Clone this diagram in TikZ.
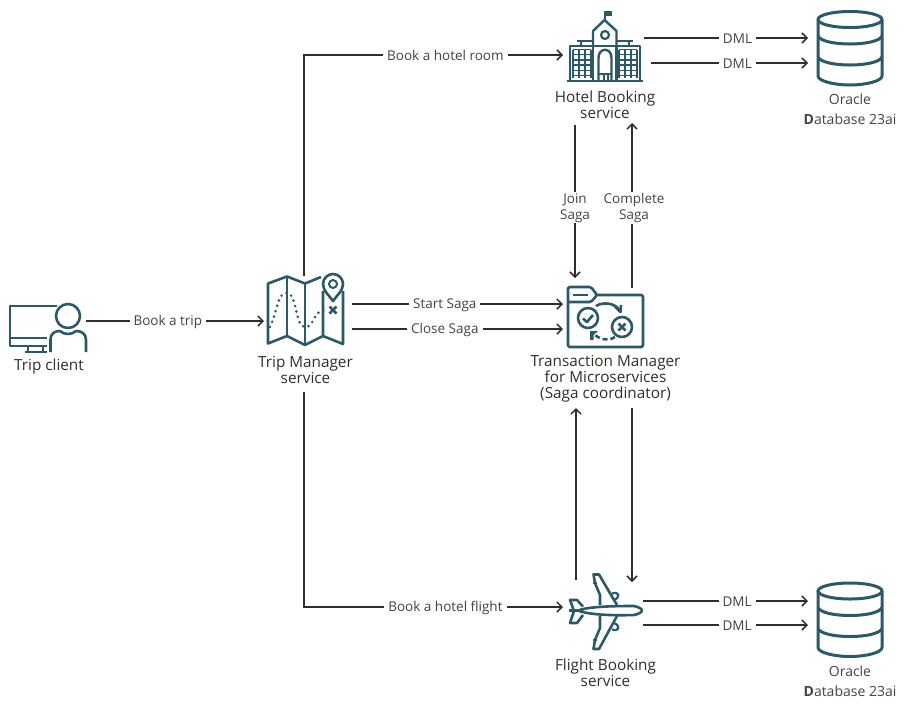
\documentclass[tikz,border=0pt]{standalone}
\usepackage{fontspec}
\setmainfont{Open Sans}
\usetikzlibrary{arrows.meta}
\definecolor{teal}{HTML}{2C5967}
\definecolor{ink}{HTML}{312D2A}
\definecolor{soft}{HTML}{47433F}
\tikzset{
  conn/.style={draw=ink,line width=1.5pt,-{Straight Barb[length=5pt,width=10pt,line width=1.5pt]}},
  lab/.style={fill=white,text=soft,font=\fontsize{13.5}{16}\selectfont,align=center,inner xsep=4pt,inner ysep=1pt,yshift=-0.8pt},
  title/.style={text=ink,font=\fontsize{15.3}{16}\selectfont,align=center,inner sep=0pt},
  dbtitle/.style={text=soft,font=\fontsize{14}{20}\selectfont,align=center,inner sep=0pt},
  icon/.style={draw=teal,line width=2.6pt,line join=round,fill=none},
  thin icon/.style={draw=teal,line width=2pt,line join=round,fill=none},
}
\newcommand{\dbicon}[1]{%
  \begin{scope}[yshift=-#1pt]
    \draw[icon,line width=3pt] (850,19.5) ellipse [x radius=32,y radius=8];
    \draw[icon,line width=3pt] (818,19.5) -- (818,76) .. controls (818,81) and (834,85) .. (850,85) .. controls (866,85) and (882,81) .. (882,76) -- (882,19.5);
    \draw[icon,line width=3pt] (818,36) .. controls (820,41) and (834,44) .. (850,44) .. controls (866,44) and (880,41) .. (882,36);
    \draw[icon,line width=3pt] (818,57) .. controls (820,62) and (834,65) .. (850,65) .. controls (866,65) and (880,62) .. (882,57);
  \end{scope}}
\begin{document}
\begin{tikzpicture}[x=1pt,y=-1pt]
\useasboundingbox (0,0) rectangle (915,716);
% ---------- Trip client icon
\draw[icon] (57,306) -- (10,306) -- (10,346) -- (47,346);
\draw[icon] (10,338) -- (47,338);
\draw[thin icon] (28,346) -- (28,352) (43,346) -- (43,352) (25,352) -- (47,352);
\draw[icon] (68,316) circle [radius=12];
\draw[icon] (50.5,352) -- (50.5,340) .. controls (50.5,333) and (55,331) .. (60,331) .. controls (64,335) and (72,335) .. (76,331) .. controls (82,331) and (86,334) .. (86,340) -- (86,352);
% ---------- Trip Manager icon
\draw[icon] (323,291) -- (323,336) -- (305,345) -- (287,336) -- (268,343.5) -- (268,283.5) -- (287,276.5) -- (305,283.5) -- (321,277);
\draw[icon] (343,291) -- (343,344) -- (323,336);
\draw[icon] (287,276.5) -- (287,336) (305,283.5) -- (305,345);
\draw[icon] (333,301) .. controls (329,295) and (323,291) .. (323,284) .. controls (323,278) and (328,274) .. (333,274) .. controls (338,274) and (343,278) .. (343,284) .. controls (343,291) and (337,295) .. (333,301) -- cycle;
\draw[thin icon] (333,284) circle [radius=4];
\draw[icon,line width=2.9pt,line cap=round,dash pattern=on 0pt off 5.6pt] (270,327) .. controls (278,310) and (277,293) .. (287,293) .. controls (297,293) and (295,327) .. (305,327) .. controls (315,327) and (312,311) .. (326,309.5);
\draw[icon,line width=2.8pt] (329.5,306.5) -- (336.5,313.5) (336.5,306.5) -- (329.5,313.5);
% ---------- Hotel icon
\draw[icon,line width=2pt] (604.5,21) -- (604.5,12);
\fill[teal] (604,10.5) rectangle (612,15.5);
\draw[icon,line width=2.4pt] (593,45) -- (593,31) -- (604.5,20) -- (616.5,31) -- (616.5,45);
\draw[icon,line width=2.2pt] (605,35) circle [radius=4];
\draw[icon,line width=2pt] (577,41) -- (593,41) (617,41) -- (633,41) (581,41) -- (581,46) (629,41) -- (629,46);
\draw[icon,line width=2.4pt] (570,81) -- (570,46) -- (640,46) -- (640,81);
\draw[icon,line width=2.4pt] (593,46) -- (593,81) (616.5,46) -- (616.5,81);
\draw[icon,line width=2.8pt] (567,81) -- (643,81);
\draw[icon,line width=2.4pt] (598.5,81) -- (598.5,58) .. controls (598.5,47) and (611.5,47) .. (611.5,58) -- (611.5,81);
\draw[thin icon,line width=1.6pt] (604,74) -- (604,81) (608,74) -- (608,81) (598.5,74) -- (611.5,74);
\foreach \xa/\xb in {573/591,619/637}{
  \foreach \row in {0,...,5}{
    \draw[teal,line width=1.3pt] (\xa,49.5+\row*5.2) -- (\xb,49.5+\row*5.2);
  }
  \draw[teal,line width=1.3pt] (\xa,49.5) -- (\xa,78) (\xa+6,49.5) -- (\xa+6,78) (\xa+12,49.5) -- (\xa+12,78) (\xb,49.5) -- (\xb,78);
}
% ---------- Transaction Manager icon
\draw[icon,rounded corners=1.5pt] (597,295) -- (643,295) -- (643,347) -- (568,347) -- (568,287) -- (591,287) -- (597,295) -- (591,302) -- (568,302);
\draw[icon] (573,295) -- (588,295);
\draw[icon] (588,318) circle [radius=10];
\draw[icon] (583,318.5) -- (587,322) -- (593,315);
\draw[icon] (622,327) circle [radius=10];
\draw[icon] (618.5,323.5) -- (625.5,330.5) (625.5,323.5) -- (618.5,330.5);
\draw[icon] (596,306) .. controls (602,302) and (615,302) .. (620,311);
\draw[icon] (615,306.5) -- (620.5,312) -- (621,305);
\draw[icon,dash pattern=on 5pt off 3pt] (615,337) .. controls (610,341) and (601,340) .. (595,335);
\fill[teal] (590,331) -- (598,331) -- (593.5,335) -- (593.5,340) -- (590,340) -- cycle;
% ---------- Plane icon
\draw[icon] (578,610.5) .. controls (590,606) and (620,606) .. (634,606) .. controls (639,607) and (642,609) .. (642,610.5) .. controls (642,612) and (639,614) .. (634,615) .. controls (620,615.5) and (590,615.5) .. (578,610.5);
\draw[icon] (569,610.5) -- (581,610.5);
\draw[icon] (583,606.5) -- (577,600) -- (570,600) -- (574,611) -- (570,623) -- (577,623) -- (583,615);
\draw[icon] (600,605) -- (600,595) -- (595,583) -- (593.5,574.5) -- (599,574.5) -- (617,605);
\draw[icon] (600,616) -- (600,628) -- (595,640) -- (593.5,649) -- (599,649) -- (617,616);
\draw[icon,line width=2.2pt] (612,593.5) .. controls (619,591) and (621,597) .. (614,600);
\draw[icon,line width=2.2pt] (612,629.5) .. controls (619,632) and (621,626) .. (614,623);
\draw[icon,line width=2.2pt] (593,583) -- (597,583) (593,640) -- (597,640);
% ---------- Databases
\dbicon{0}
\dbicon{571.5}
% ---------- Titles
\node[title] (clientT) at (49,367) {Trip client};
\node[title] (mgrT) at (305.5,369.5) {Trip Manager\\service};
\node[title] (hotelT) at (605,105) {Hotel Booking\\service};
\node[title] (tmT) at (605.5,378.5) {Transaction Manager\\for Microservices\\(Saga coordinator)};
\node[title] (flightT) at (605.5,673) {Flight Booking\\service};
\node[dbtitle] (db1T) at (850,109.5) {Oracle\\\textbf{D}atabase 23ai};
\node[dbtitle] (db2T) at (850,681) {Oracle\\\textbf{D}atabase 23ai};
% ---------- Ports
\coordinate (clientOut) at (86,321);
\coordinate (mgrIn) at (264,321);
\coordinate (mgrTop) at (304,276);
\coordinate (mgrBot) at (304,392);
\coordinate (mgrS) at (352,304);
\coordinate (mgrC) at (352,329);
\coordinate (hotelIn) at (563,55);
\coordinate (cornerT) at (304,55);
\coordinate (flightIn) at (563,607);
\coordinate (cornerB) at (304,607);
\coordinate (tmS) at (563,304);
\coordinate (tmC) at (563,329);
\coordinate (hotelJ) at (575,125);
\coordinate (tmJ) at (575,278);
\coordinate (tmK) at (632,288);
\coordinate (hotelK) at (632,123);
\coordinate (tmF) at (576,408);
\coordinate (flightF) at (576,580);
\coordinate (tmG) at (632,408);
\coordinate (flightG) at (632,582);
\coordinate (hA) at (644,38);
\coordinate (hB) at (651,63);
\coordinate (dA) at (808,38);
\coordinate (dB) at (808,63);
\coordinate (fA) at (643,601);
\coordinate (fB) at (643,625);
\coordinate (eA) at (808,601);
\coordinate (eB) at (808,625);
% ---------- Connectors
\draw[conn] (clientOut) -- node[lab,pos=.46] {Book a trip} (mgrIn);
\draw[conn] (mgrTop) -- (cornerT) -- node[lab,pos=.546] {Book a hotel room} (hotelIn);
\draw[conn] (mgrBot) -- (cornerB) -- node[lab,pos=.546] {Book a hotel flight} (flightIn);
\draw[conn] (mgrS) -- node[lab,pos=.44] {Start Saga} (tmS);
\draw[conn] (mgrC) -- node[lab,pos=.44] {Close Saga} (tmC);
\draw[conn] (hotelJ) -- node[lab,pos=.536,inner xsep=1pt] {Join\\Saga} (tmJ);
\draw[conn] (tmK) -- node[lab,pos=.49,inner xsep=1pt,xshift=2pt] {Complete\\Saga} (hotelK);
\draw[conn] (flightF) -- (tmF);
\draw[conn] (tmG) -- (flightG);
\draw[conn] (hA) -- node[lab,pos=.57] {DML} (dA);
\draw[conn] (hB) -- node[lab,pos=.55] {DML} (dB);
\draw[conn] (fA) -- node[lab,pos=.57] {DML} (eA);
\draw[conn] (fB) -- node[lab,pos=.57] {DML} (eB);
\end{tikzpicture}
\end{document}
